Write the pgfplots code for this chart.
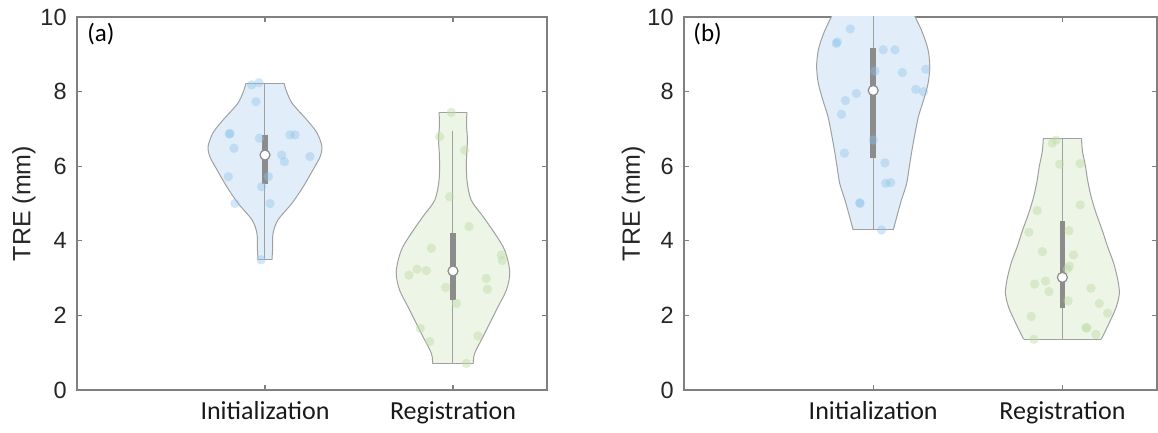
\documentclass[border=0pt]{standalone}
\usepackage{pgfplots}
\pgfplotsset{compat=1.18}
\usepackage{fontspec}
\setmainfont{Liberation Sans}
\newfontfamily\carlito{Carlito}
\definecolor{vblue}{RGB}{225,238,249}
\definecolor{vgreen}{RGB}{237,245,230}
\definecolor{dblue}{RGB}{140,195,235}
\definecolor{dgreen}{RGB}{190,220,165}
\definecolor{edgec}{RGB}{160,160,160}
\definecolor{boxg}{RGB}{140,140,140}
\definecolor{axg}{RGB}{128,128,128}
\pgfplotsset{
  vplot/.style={
    scale only axis, height=186.5pt, anchor=south west,
    xmin=0, xmax=2.5, ymin=0, ymax=10,
    xtick={1,2}, xticklabels={Initialization,Registration},
    ytick={0,2,4,6,8,10},
    tick align=inside, major tick length=2.5pt, tick pos=both,
    axis line style={axg, line width=0.6pt},
    every tick/.style={axg, line width=0.6pt},
    /pgf/number format/assume math mode=true,
    yticklabel style={anchor=east, inner sep=0pt, xshift=-5pt, font=\fontsize{11.75}{12}\selectfont, text=black!85},
    xticklabel style={anchor=base, inner sep=0pt, yshift=-15pt, font=\carlito\fontsize{13}{14}\selectfont, text=black!90},
    ylabel={TRE (mm)},
    every axis y label/.style={rotate=90, anchor=center, font=\fontsize{12.5}{13}\selectfont, text=black!85},
  },
  vfill/.style={draw=none, forget plot},
  vedge/.style={edgec, line width=0.5pt, smooth, tension=0.5},
  bdots/.style={only marks, mark=*, mark size=2.35pt, color=dblue, mark options={draw opacity=0, fill=dblue, fill opacity=0.4}},
  gdots/.style={only marks, mark=*, mark size=2.35pt, color=dgreen, mark options={draw opacity=0, fill=dgreen, fill opacity=0.45}},
  whisk/.style={edgec, line width=0.5pt},
  boxbar/.style={boxg, line width=2.8pt},
  med/.style={only marks, mark=*, mark size=2.5pt, color=boxg, mark options={fill=white, draw=boxg, line width=0.6pt}},
}
\begin{document}
\begin{tikzpicture}
\path (0,0) rectangle (579pt,216.5pt);
% ---------------- panel (a) ----------------
\begin{axis}[vplot, width=235pt, at={(38.5pt,21.5pt)},
  every axis y label/.append style={at={(axis description cs:-0.1128,0.5)}}]
% Initialization violin
\addplot[vfill, fill=vblue] coordinates {(1.101,8.23)(1.112,8.04)(1.144,7.69)(1.223,7.24)(1.277,6.89)(1.303,6.52)(1.293,6.25)(1.255,5.90)(1.202,5.44)(1.144,5.01)(1.069,4.56)(1.043,4.21)(1.041,3.84)(1.037,3.49)
 (0.963,3.49)(0.959,3.84)(0.957,4.21)(0.931,4.56)(0.856,5.01)(0.798,5.44)(0.745,5.90)(0.707,6.25)(0.697,6.52)(0.723,6.89)(0.777,7.24)(0.856,7.69)(0.888,8.04)(0.899,8.23)} -- cycle;
\addplot[vedge] coordinates {(1.101,8.23)(1.112,8.04)(1.144,7.69)(1.223,7.24)(1.277,6.89)(1.303,6.52)(1.293,6.25)(1.255,5.90)(1.202,5.44)(1.144,5.01)(1.069,4.56)(1.043,4.21)(1.041,3.84)(1.037,3.49)};
\addplot[vedge] coordinates {(0.899,8.23)(0.888,8.04)(0.856,7.69)(0.777,7.24)(0.723,6.89)(0.697,6.52)(0.707,6.25)(0.745,5.90)(0.798,5.44)(0.856,5.01)(0.931,4.56)(0.957,4.21)(0.959,3.84)(0.963,3.49)};
\addplot[whisk] coordinates {(0.899,8.23)(1.101,8.23)};
\addplot[whisk] coordinates {(0.963,3.49)(1.037,3.49)};
\addplot[bdots] coordinates {(0.814,6.88)(0.81,6.86)(0.835,6.48)(0.805,5.72)(0.84,5.00)(0.968,8.24)(0.929,8.18)(0.952,7.73)(0.97,6.75)(1.089,6.30)(1.103,6.12)(1.133,6.84)(1.16,6.84)(1.239,6.26)(1.018,5.72)(0.982,5.45)(1.027,5.00)(0.979,3.49)};
\addplot[whisk] coordinates {(1,3.49)(1,8.23)};
\addplot[boxbar] coordinates {(1,5.52)(1,6.84)};
\addplot[med] coordinates {(1,6.30)};
% Registration violin
\addplot[vfill, fill=vgreen] coordinates {(2.074,7.44)(2.072,7.10)(2.077,6.70)(2.072,6.25)(2.074,5.63)(2.097,5.09)(2.160,4.65)(2.222,4.20)(2.275,3.75)(2.302,3.17)(2.284,2.68)(2.230,2.14)(2.169,1.52)(2.115,0.98)(2.109,0.71)
 (1.891,0.71)(1.885,0.98)(1.831,1.52)(1.770,2.14)(1.716,2.68)(1.698,3.17)(1.725,3.75)(1.778,4.20)(1.840,4.65)(1.903,5.09)(1.926,5.63)(1.928,6.25)(1.923,6.70)(1.928,7.10)(1.926,7.44)} -- cycle;
\addplot[vedge] coordinates {(2.074,7.44)(2.072,7.10)(2.077,6.70)(2.072,6.25)(2.074,5.63)(2.097,5.09)(2.160,4.65)(2.222,4.20)(2.275,3.75)(2.302,3.17)(2.284,2.68)(2.230,2.14)(2.169,1.52)(2.115,0.98)(2.109,0.71)};
\addplot[vedge] coordinates {(1.926,7.44)(1.928,7.10)(1.923,6.70)(1.928,6.25)(1.926,5.63)(1.903,5.09)(1.840,4.65)(1.778,4.20)(1.725,3.75)(1.698,3.17)(1.716,2.68)(1.770,2.14)(1.831,1.52)(1.885,0.98)(1.891,0.71)};
\addplot[whisk] coordinates {(1.926,7.44)(2.074,7.44)};
\addplot[whisk] coordinates {(1.891,0.71)(2.109,0.71)};
\addplot[gdots] coordinates {(1.991,7.44)(1.929,6.79)(2.062,6.43)(1.982,5.18)(2.085,4.38)(1.885,3.80)(1.766,3.08)(1.809,3.24)(1.858,3.20)(1.961,2.75)(2.018,2.32)(2.177,2.99)(2.183,2.70)(2.257,3.62)(2.262,3.47)(1.826,1.65)(1.876,1.30)(2.133,1.45)(2.071,0.71)};
\addplot[whisk] coordinates {(2,0.71)(2,6.95)};
\addplot[boxbar] coordinates {(2,2.41)(2,4.22)};
\addplot[med] coordinates {(2,3.19)};
\node[anchor=west, inner sep=0pt, font=\carlito\fontsize{12.5}{13}\selectfont] at (axis cs:0.053,9.54) {(a)};
\end{axis}
% ---------------- panel (b) ----------------
\begin{axis}[vplot, width=236.5pt, at={(342pt,21.5pt)},
  every axis y label/.append style={at={(axis description cs:-0.1068,0.5)}}]
% Initialization violin
\addplot[vfill, fill=vblue] coordinates {(1.181,10.4)(1.223,9.99)(1.262,9.56)(1.290,9.12)(1.299,8.67)(1.290,8.22)(1.266,7.77)(1.239,7.33)(1.221,6.88)(1.205,6.43)(1.191,5.99)(1.177,5.54)(1.149,5.09)(1.125,4.65)(1.106,4.29)
 (0.894,4.29)(0.875,4.65)(0.851,5.09)(0.823,5.54)(0.809,5.99)(0.795,6.43)(0.779,6.88)(0.761,7.33)(0.734,7.77)(0.710,8.22)(0.701,8.67)(0.710,9.12)(0.738,9.56)(0.777,9.99)(0.819,10.4)} -- cycle;
\addplot[vedge] coordinates {(1.181,10.4)(1.223,9.99)(1.262,9.56)(1.290,9.12)(1.299,8.67)(1.290,8.22)(1.266,7.77)(1.239,7.33)(1.221,6.88)(1.205,6.43)(1.191,5.99)(1.177,5.54)(1.149,5.09)(1.125,4.65)(1.106,4.29)};
\addplot[vedge] coordinates {(0.819,10.4)(0.777,9.99)(0.738,9.56)(0.710,9.12)(0.701,8.67)(0.710,8.22)(0.734,7.77)(0.761,7.33)(0.779,6.88)(0.795,6.43)(0.809,5.99)(0.823,5.54)(0.851,5.09)(0.875,4.65)(0.894,4.29)};
\addplot[whisk] coordinates {(0.894,4.29)(1.106,4.29)};
\addplot[bdots] coordinates {(0.879,9.68)(0.805,9.29)(0.81,9.33)(1.053,9.12)(1.115,9.12)(1.009,8.55)(1.154,8.51)(1.278,8.60)(0.911,7.95)(0.853,7.76)(0.832,7.39)(1.225,8.06)(1.266,8.00)(1.0,6.70)(0.848,6.35)(1.062,6.09)(1.092,5.56)(1.066,5.54)(0.929,5.02)(0.93,5.0)(1.044,4.29)};
\addplot[whisk] coordinates {(1,4.29)(1,10.4)};
\addplot[boxbar] coordinates {(1,6.21)(1,9.18)};
\addplot[med] coordinates {(1,8.03)};
% Registration violin
\addplot[vfill, fill=vgreen] coordinates {(2.101,6.74)(2.106,6.40)(2.122,6.00)(2.133,5.63)(2.152,5.18)(2.178,4.74)(2.210,4.29)(2.239,3.84)(2.271,3.40)(2.293,2.95)(2.301,2.59)(2.285,2.23)(2.255,1.88)(2.221,1.52)(2.205,1.36)
 (1.795,1.36)(1.779,1.52)(1.745,1.88)(1.715,2.23)(1.699,2.59)(1.707,2.95)(1.729,3.40)(1.761,3.84)(1.790,4.29)(1.822,4.74)(1.848,5.18)(1.867,5.63)(1.878,6.00)(1.894,6.40)(1.899,6.74)} -- cycle;
\addplot[vedge] coordinates {(2.101,6.74)(2.106,6.40)(2.122,6.00)(2.133,5.63)(2.152,5.18)(2.178,4.74)(2.210,4.29)(2.239,3.84)(2.271,3.40)(2.293,2.95)(2.301,2.59)(2.285,2.23)(2.255,1.88)(2.221,1.52)(2.205,1.36)};
\addplot[vedge] coordinates {(1.899,6.74)(1.894,6.40)(1.878,6.00)(1.867,5.63)(1.848,5.18)(1.822,4.74)(1.790,4.29)(1.761,3.84)(1.729,3.40)(1.707,2.95)(1.699,2.59)(1.715,2.23)(1.745,1.88)(1.779,1.52)(1.795,1.36)};
\addplot[whisk] coordinates {(1.899,6.74)(2.101,6.74)};
\addplot[whisk] coordinates {(1.795,1.36)(2.205,1.36)};
\addplot[gdots] coordinates {(1.967,6.70)(1.947,6.62)(1.986,6.05)(2.094,6.07)(1.867,4.81)(2.094,4.96)(1.823,4.23)(2.035,4.27)(1.894,3.71)(2.059,3.62)(2.037,3.32)(2.027,3.24)(1.853,2.84)(1.911,2.92)(1.929,2.64)(2.151,2.73)(2.195,2.32)(2.030,2.39)(2.239,2.06)(1.835,1.97)(2.124,1.67)(2.13,1.66)(2.177,1.49)(1.849,1.36)};
\addplot[whisk] coordinates {(2,1.36)(2,6.74)};
\addplot[boxbar] coordinates {(2,2.19)(2,4.54)};
\addplot[med] coordinates {(2,3.02)};
\node[anchor=west, inner sep=0pt, font=\carlito\fontsize{12.5}{13}\selectfont] at (axis cs:0.048,9.54) {(b)};
\end{axis}
\end{tikzpicture}
\end{document}
